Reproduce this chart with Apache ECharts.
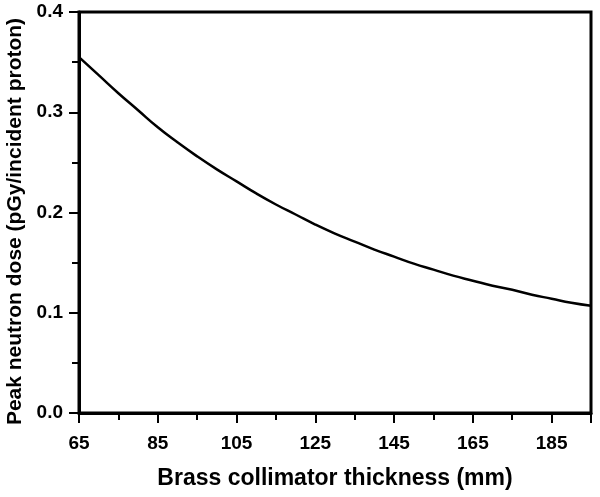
<!DOCTYPE html>
<html>
<head>
<meta charset="utf-8">
<script src="https://cdn.jsdelivr.net/npm/echarts@6/dist/echarts.min.js"></script>
<style>html,body{margin:0;padding:0;background:#fff}#c{width:600px;height:497px}</style>
</head>
<body>
<div id="c"></div>
<script>
const thickness = [65,70,75,80,85,90,95,100,105,110,115,120,125,130,135,140,145,150,155,160,165,170,175,180,185,190,195];
const dose = [0.355,0.337,0.319,0.302,0.285,0.270,0.256,0.243,0.231,0.219,0.208,0.198,0.188,0.179,0.171,0.163,0.156,0.149,0.143,0.137,0.132,0.127,0.123,0.118,0.114,0.110,0.107];
const xTitle = 'Brass collimator thickness (mm)';
const yTitle = 'Peak neutron dose (pGy/incident proton)';

const chart = echarts.init(document.getElementById('c'));
const font = 'Liberation Sans, Arial, sans-serif';
chart.setOption({
  animation: false,
  grid: {left: 79, right: 9, top: 12, bottom: 84, containLabel: false, outerBoundsMode: 'none',
    show: true, borderColor: '#000', borderWidth: 3, backgroundColor: 'transparent'},
  xAxis: {
    type: 'value', min: 65, max: 195, interval: 20,
    name: xTitle, nameLocation: 'middle', nameGap: 54,
    nameTextStyle: {fontFamily: font, fontWeight: 'bold', fontSize: 23, color: '#000'},
    axisLine: {lineStyle: {color: '#000', width: 3}},
    axisTick: {show: true, length: 10, lineStyle: {color: '#000', width: 2}},
    minorTick: {show: true, splitNumber: 2, length: 7, lineStyle: {color: '#000', width: 2}},
    splitLine: {show: false},
    axisLabel: {fontFamily: font, fontWeight: 'bold', fontSize: 19, color: '#000', margin: 21,
      formatter: v => (v === 195 ? '' : String(v))}
  },
  yAxis: {
    type: 'value', min: 0, max: 0.4, interval: 0.1,
    name: yTitle, nameLocation: 'middle', nameGap: 52, nameRotate: 90,
    nameTextStyle: {fontFamily: font, fontWeight: 'bold', fontSize: 21, color: '#000', padding: [0, 18, 0, 0]},
    axisLine: {lineStyle: {color: '#000', width: 3}},
    axisTick: {show: true, length: 10, lineStyle: {color: '#000', width: 2}},
    minorTick: {show: true, splitNumber: 2, length: 7, lineStyle: {color: '#000', width: 2}},
    splitLine: {show: false},
    axisLabel: {fontFamily: font, fontWeight: 'bold', fontSize: 19, color: '#000', margin: 16,
      formatter: v => v.toFixed(1)}
  },
  series: [{
    type: 'line', smooth: true, showSymbol: false,
    lineStyle: {color: '#000', width: 2.5},
    data: thickness.map((t, i) => [t, dose[i]])
  }]
});
</script>
</body>
</html>
